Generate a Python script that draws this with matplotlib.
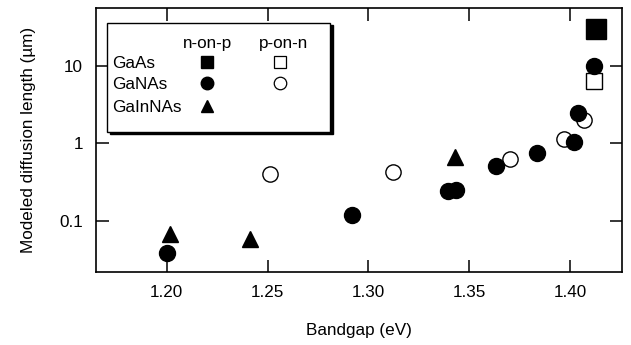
import matplotlib
matplotlib.use("Agg")
import matplotlib.pyplot as plt
from matplotlib.patches import Rectangle

plt.rcParams['font.family'] = ['Liberation Sans', 'DejaVu Sans']

# GaAs
gaas_np_x = [1.4129]
gaas_np_y = [30.0]
gaas_pn_x = [1.4121]
gaas_pn_y = [6.4]

# GaNAs
ganas_np_x = [1.2003, 1.2918, 1.3393, 1.3435, 1.3632, 1.3835, 1.4017, 1.4039, 1.4121]
ganas_np_y = [0.039, 0.118, 0.24, 0.254, 0.51, 0.75, 1.03, 2.44, 10.1]
ganas_pn_x = [1.2513, 1.3121, 1.3703, 1.3972, 1.4071]
ganas_pn_y = [0.40, 0.43, 0.63, 1.14, 2.0]

# GaInNAs
gainnas_np_x = [1.2017, 1.2413, 1.3430]
gainnas_np_y = [0.068, 0.059, 0.67]

FS = 12.3

fig = plt.figure(figsize=(6.31, 3.45), dpi=100)
ax = fig.add_axes([0.1517, 0.2107, 0.8336, 0.7653])

ax.plot(ganas_pn_x, ganas_pn_y, 'o', ms=11, mfc='white', mec='black', mew=1.0, ls='none')
ax.plot(gaas_pn_x, gaas_pn_y, 's', ms=11.5, mfc='white', mec='black', mew=1.0, ls='none')
ax.plot(ganas_np_x, ganas_np_y, 'o', ms=11.5, color='black', ls='none')
ax.plot(gaas_np_x, gaas_np_y, 's', ms=14, color='black', ls='none')
ax.plot(gainnas_np_x, gainnas_np_y, '^', ms=12, color='black', ls='none')

ax.set_yscale('log')
ax.set_xlim(1.1648, 1.4256)
ax.set_ylim(0.0217, 55.7)
ax.set_xticks([1.20, 1.25, 1.30, 1.35, 1.40])
ax.set_xticklabels(['1.20', '1.25', '1.30', '1.35', '1.40'])
ax.set_yticks([0.1, 1, 10])
ax.set_yticklabels(['0.1', '1', '10'])
ax.minorticks_off()
ax.tick_params(direction='in', length=9, width=1.1, top=True, right=True,
               labelsize=FS, pad=9)
for s in ax.spines.values():
    s.set_linewidth(1.2)

ax.set_xlabel('Bandgap (eV)', fontsize=FS, labelpad=17)
ax.set_ylabel('Modeled diffusion length (µm)', fontsize=FS, labelpad=17)

# custom table-style legend
def ax_xy(px, py):
    x0, x1 = 95.7, 621.7
    y0, y1 = 272.3, 8.3
    return (px - x0) / (x1 - x0), (py - y0) / (y1 - y0)

lx0, ly0 = ax_xy(107, 132)
lx1, ly1 = ax_xy(330, 23)
sx, sy = 2.5 / 526, -2.5 / 264
ax.add_patch(Rectangle((lx0 + sx, ly0 + sy), lx1 - lx0, ly1 - ly0, transform=ax.transAxes,
                       facecolor='black', edgecolor='black', zorder=5))
ax.add_patch(Rectangle((lx0, ly0), lx1 - lx0, ly1 - ly0, transform=ax.transAxes,
                       facecolor='white', edgecolor='black', lw=1.0, zorder=6))

for label, px in [('n-on-p', 208), ('p-on-n', 284)]:
    x, y = ax_xy(px, 42)
    ax.text(x, y, label, transform=ax.transAxes, ha='center', va='center_baseline',
            fontsize=FS, zorder=7)
rows = [('GaAs', 62, 's', True), ('GaNAs', 83, 'o', True), ('GaInNAs', 106, '^', False)]
for label, py, m, has_pn in rows:
    x, y = ax_xy(112, py)
    ax.text(x, y, label, transform=ax.transAxes, ha='left', va='center_baseline',
            fontsize=FS, zorder=7)
    x, y = ax_xy(207, py)
    ax.plot([x], [y], m, ms=9, color='black', transform=ax.transAxes, zorder=7, clip_on=False)
    if has_pn:
        x, y = ax_xy(280, py)
        ax.plot([x], [y], m, ms=9, mfc='white', mec='black', mew=0.9,
                transform=ax.transAxes, zorder=7, clip_on=False)

fig.savefig('out.png', dpi=100)
